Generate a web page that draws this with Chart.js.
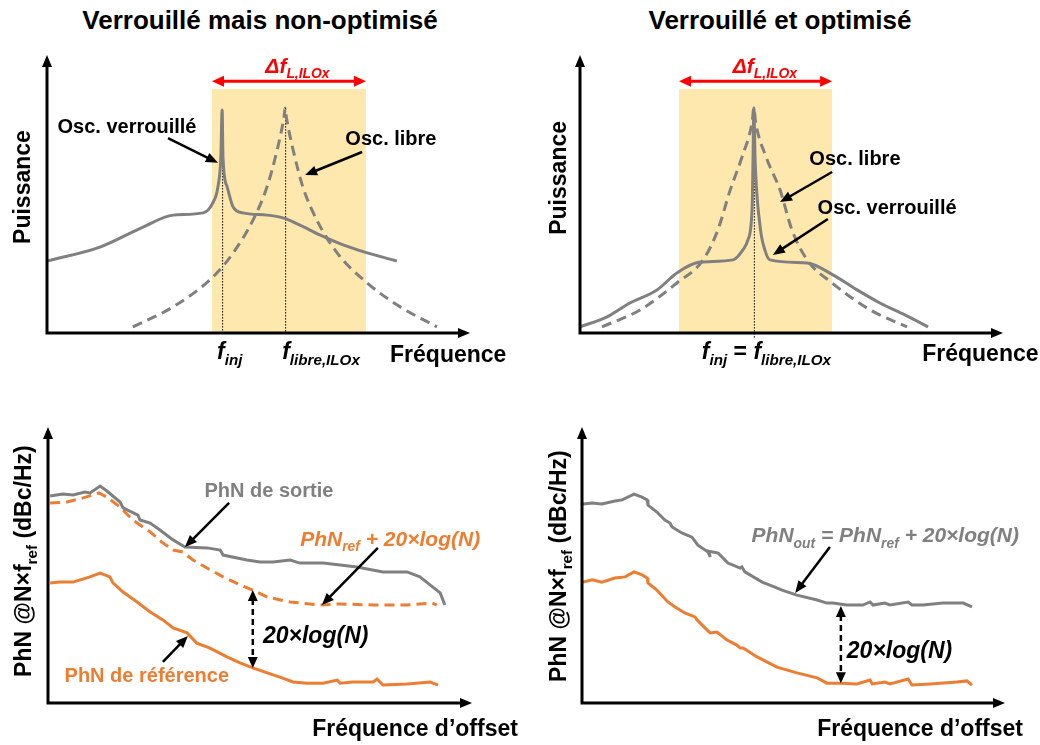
<!DOCTYPE html>
<html>
<head>
<meta charset="utf-8">
<script src="https://cdn.jsdelivr.net/npm/chart.js@4/dist/chart.umd.min.js"></script>
<style>
  body { margin: 0; background: #fff; width: 1040px; height: 745px; position: relative; overflow: hidden;
         font-family: "Liberation Sans", Arial, sans-serif; }
  .title { position: absolute; top: 6px; width: 520px; text-align: center; font-weight: bold; font-size: 26px; line-height: 28px; color: #000; }
  canvas { position: absolute; }
</style>
</head>
<body>
<div class="title" style="left:0">Verrouillé mais non-optimisé</div>
<div class="title" style="left:520px">Verrouillé et optimisé</div>
<canvas id="tl" width="520" height="380" style="left:0;top:0"></canvas>
<canvas id="tr" width="520" height="380" style="left:520px;top:0"></canvas>
<canvas id="bl" width="520" height="365" style="left:0;top:380px"></canvas>
<canvas id="br" width="520" height="365" style="left:520px;top:380px"></canvas>
<script>
// all values in arbitrary units, 0..100 along each axis

// top left : locked but not optimised
const tlLocked = [[0,25.9],[12.5,30.9],[22.7,38.1],[29.8,42.4],[36.9,43.2],[39.2,46.8],[40.4,52.5],[41.1,63.3],
  [41.4,80.2],[41.6,63.3],[42.6,52.5],[44.0,45.3],[46.3,43.2],[52.0,42.4],[55.8,41.4],[59.8,38.8],[64.5,35.3],
  [70.0,31.7],[75.7,28.8],[82.7,25.9]];
const tlFree = [[20.3,2.2],[29.8,9.4],[39.2,20.1],[44.0,28.8],[48.7,40.6],[52.0,52.5],[54.4,65.8],[56.0,77.5],
  [56.3,80.9],[56.6,77.5],[58.2,65.8],[60.5,52.5],[63.8,40.6],[68.6,28.8],[75.7,18.0],[83.5,9.4],[92.2,2.2]];
const tlRange = [39.0, 75.4];
const tlInj = 41.4, tlFreeRun = 56.3;

// top right : locked and optimised
const trLocked = [[0,2.2],[6.4,5.8],[11.8,10.8],[18.2,15.5],[22.9,21.6],[28.4,25.5],[36.2,26.3],[38.5,29.9],
  [39.7,33.5],[40.7,45.3],[40.9,62.2],[41.1,80.9],[41.4,62.2],[42.6,38.1],[43.7,29.9],[44.9,26.3],[53.7,25.2],
  [59.8,20.9],[65.5,15.5],[70.9,10.8],[76.8,6.5],[82.3,2.2]];
const trFree = [[5.2,2.2],[14.2,8.3],[22.9,18.0],[29.1,26.3],[32.6,37.1],[35.5,51.4],[38.3,63.3],[40.7,76.0],
  [41.1,80.9],[41.5,76.0],[44.0,63.3],[47.3,51.4],[50.1,37.1],[53.7,26.3],[59.6,18.0],[68.6,8.3],[77.3,2.2]];
const trRange = [23.4, 59.6];
const trInj = 41.1;

// bottom left : phase noise, not optimised
const blOut = [[0.5,75.0],[3.5,75.7],[5.9,75.4],[8.7,76.4],[9.9,76.1],[12.3,78.6],[13.9,76.8],[17.0,72.8],
  [17.7,70.7],[21.2,68.1],[21.7,66.3],[24.1,65.2],[26.4,62.7],[29.5,59.1],[32.3,56.5],[37.5,56.2],[40.6,55.4],
  [41.3,53.6],[46.9,51.8],[50.0,51.1],[53.1,51.1],[57.1,51.8],[59.4,50.7],[64.9,50.7],[72.9,49.3],[79.0,47.5],
  [84.7,47.5],[87.7,45.7],[90.1,42.8],[92.5,39.9],[93.6,35.5]];
const blRefPlus = [[0.5,72.5],[4.5,72.8],[8.3,74.3],[12.0,76.1],[13.9,74.6],[17.0,71.0],[20.0,66.3],[21.7,64.5],
  [24.1,62.0],[27.1,58.0],[29.5,55.4],[31.8,54.7],[34.2,51.8],[37.5,48.9],[41.3,45.7],[45.3,42.8],[48.3,40.9],
  [51.7,38.4],[57.1,36.6],[64.2,35.5],[68.9,35.9],[76.7,35.5],[84.7,35.5],[90.6,36.2],[91.7,35.5]];
const blRef = [[0.5,43.5],[2.8,43.8],[5.9,43.8],[9.9,45.7],[12.3,47.1],[14.6,45.7],[15.3,43.5],[17.7,40.2],
  [21.0,36.6],[24.1,33.0],[27.1,30.1],[29.5,27.2],[32.8,25.4],[35.1,21.7],[38.2,19.9],[42.2,16.7],[45.3,14.5],
  [48.3,12.7],[51.7,10.9],[54.7,9.4],[57.8,7.6],[61.1,7.2],[64.9,7.2],[68.2,8.3],[68.9,7.2],[71.9,7.6],
  [76.7,7.6],[77.6,8.7],[79.0,6.5],[84.7,6.9],[90.1,7.6],[92.0,6.5]];
const blGap = [48.3, 40.9, 12.7];

// bottom right : phase noise, optimised
const brOut = [[0.2,72.1],[2.4,72.5],[4.7,72.1],[7.8,73.2],[9.5,73.6],[12.3,75.7],[14.2,74.6],[15.4,73.6],
  [15.6,71.7],[17.7,69.2],[19.6,66.3],[20.8,65.2],[21.3,63.8],[23.6,61.6],[26.0,60.1],[27.4,57.2],[29.8,54.7],
  [30.3,52.9],[30.0,55.0],[32.2,54.3],[34.5,50.7],[37.4,48.9],[37.8,49.3],[38.5,47.5],[42.6,43.8],[45.6,42.0],
  [47.3,40.9],[50.8,39.1],[55.6,37.3],[57.9,36.2],[59.3,36.2],[62.6,35.5],[66.4,35.5],[68.1,36.6],[68.8,35.5],
  [71.6,36.2],[72.8,35.5],[77.1,36.6],[78.0,35.5],[80.6,35.5],[85.3,36.2],[90.1,36.2],[92.2,34.8]];
const brRef = [[0.2,43.8],[2.4,44.6],[4.7,43.8],[7.8,45.3],[10.2,45.7],[12.3,47.5],[14.2,46.4],[15.4,45.3],
  [15.6,43.5],[17.7,40.9],[20.3,36.6],[22.0,34.8],[24.3,32.6],[26.7,31.2],[27.2,30.1],[29.6,26.4],[30.3,25.4],
  [31.9,25.7],[34.3,22.8],[36.6,21.0],[37.4,19.9],[38.1,19.9],[41.4,16.7],[46.1,13.0],[50.8,10.9],[55.6,9.1],
  [57.9,7.2],[61.0,7.2],[65.0,6.9],[68.1,8.3],[68.6,6.9],[71.6,7.6],[72.8,6.9],[77.1,8.7],[78.0,6.5],
  [82.3,6.9],[88.7,7.6],[91.0,8.0],[92.2,6.5]];
const brGap = [61.2, 35.1, 7.2];

const GREY = '#808080', ORANGE = '#ED7D31', RED = '#FF0000', BAND = '#FFE8AD';
const FONT = '"Liberation Sans", Arial, sans-serif';

function line(pts, color, extra) {
  return Object.assign({
    data: pts.map(p => ({ x: p[0], y: p[1] })),
    borderColor: color, borderWidth: 3, pointRadius: 0, fill: false, tension: 0, clip: false
  }, extra);
}

function drawArrow(ctx, x1, y1, x2, y2, o) {
  const len = o.head || 11, half = (o.hw || 10) / 2;
  const ang = Math.atan2(y2 - y1, x2 - x1);
  const ux = Math.cos(ang), uy = Math.sin(ang);
  let sx = x1, sy = y1;
  if (o.both) { sx = x1 + ux * len * 0.8; sy = y1 + uy * len * 0.8; }
  ctx.save();
  ctx.strokeStyle = o.color; ctx.fillStyle = o.color; ctx.lineWidth = o.width || 2.5;
  ctx.setLineDash(o.dash || []);
  ctx.beginPath(); ctx.moveTo(sx, sy); ctx.lineTo(x2 - ux * len * 0.8, y2 - uy * len * 0.8); ctx.stroke();
  ctx.setLineDash([]);
  const head = (tx, ty, dx, dy) => {
    ctx.beginPath();
    ctx.moveTo(tx, ty);
    ctx.lineTo(tx - dx * len - dy * half, ty - dy * len + dx * half);
    ctx.lineTo(tx - dx * len + dy * half, ty - dy * len - dx * half);
    ctx.closePath(); ctx.fill();
  };
  head(x2, y2, ux, uy);
  if (o.both) head(x1, y1, -ux, -uy);
  ctx.restore();
}

function drawRich(ctx, px, py, t) {
  const size = t.size, sub = size * 0.66;
  const font = f => (f.includes('i') ? 'italic ' : '') + 'bold ' + (f.includes('s') ? sub : size) + 'px ' + FONT;
  let w = 0;
  t.parts.forEach(p => { ctx.font = font(p[1]); w += ctx.measureText(p[0]).width; });
  ctx.save();
  ctx.translate(px, py);
  if (t.rot) ctx.rotate(-Math.PI / 2);
  let x = t.align === 'left' ? 0 : -w / 2;
  const base = size * 0.36;
  ctx.fillStyle = t.color || '#000';
  ctx.textAlign = 'left'; ctx.textBaseline = 'alphabetic';
  t.parts.forEach(p => {
    ctx.font = font(p[1]);
    ctx.fillText(p[0], x, base + (p[1].includes('s') ? size * 0.24 : 0));
    x += ctx.measureText(p[0]).width;
  });
  ctx.restore();
}

const sketch = {
  id: 'sketch',
  beforeDatasetsDraw(chart, args, o) {
    const { ctx, scales: { x, y } } = chart;
    ctx.save();
    if (o.band) {
      const l = x.getPixelForValue(o.band[0]), r = x.getPixelForValue(o.band[1]);
      const t = y.getPixelForValue(o.bandTop), b = y.getPixelForValue(0);
      ctx.fillStyle = BAND; ctx.fillRect(l, t, r - l, b - t);
    }
    (o.vlines || []).forEach(v => {
      ctx.strokeStyle = '#000'; ctx.lineWidth = 1; ctx.setLineDash([1.5, 1.5]);
      ctx.beginPath();
      ctx.moveTo(x.getPixelForValue(v[0]) + 0.5, y.getPixelForValue(v[1]));
      ctx.lineTo(x.getPixelForValue(v[0]) + 0.5, y.getPixelForValue(v[2]));
      ctx.stroke();
    });
    ctx.restore();
  },
  afterDatasetsDraw(chart, args, o) {
    const { ctx, chartArea: a, scales: { x, y } } = chart;
    // axes with arrow heads
    ctx.save();
    ctx.strokeStyle = '#000'; ctx.lineWidth = 3; ctx.lineCap = 'square';
    ctx.beginPath();
    ctx.moveTo(a.left, a.top + 8); ctx.lineTo(a.left, a.bottom); ctx.lineTo(a.right - 8, a.bottom);
    ctx.stroke();
    ctx.restore();
    drawArrow(ctx, a.left, a.bottom, a.left, a.top, { color: '#000', width: 0.1, head: 12, hw: 10 });
    drawArrow(ctx, a.left, a.bottom, a.right, a.bottom, { color: '#000', width: 0.1, head: 12, hw: 10 });
    (o.arrows || []).forEach(r => drawArrow(ctx, x.getPixelForValue(r.from[0]), y.getPixelForValue(r.from[1]),
      x.getPixelForValue(r.to[0]), y.getPixelForValue(r.to[1]), r));
    (o.texts || []).forEach(t => drawRich(ctx, x.getPixelForValue(t.at[0]), y.getPixelForValue(t.at[1]), t));
  }
};

function panel(id, datasets, padding, sk) {
  return new Chart(document.getElementById(id), {
    type: 'line',
    data: { datasets },
    options: {
      responsive: false, animation: false, devicePixelRatio: 1,
      layout: { padding },
      scales: {
        x: { type: 'linear', min: 0, max: 100, display: false },
        y: { type: 'linear', min: 0, max: 100, display: false }
      },
      plugins: { legend: { display: false }, tooltip: { enabled: false }, sketch: sk }
    },
    plugins: [sketch]
  });
}

const black = { color: '#000', width: 2.5, head: 12, hw: 10 };
const redBoth = { color: RED, width: 3, head: 12, hw: 11, both: true };
const gapArrow = { color: '#000', width: 2.5, head: 11, hw: 10, both: true, dash: [6, 4] };
const deltaF = [['Δf', 'i'], ['L,ILOx', 'is']];
const dphn = [['PhN @N×f', ''], ['ref', 's'], [' (dBc/Hz)', '']];

panel('tl', [
  line(tlLocked, GREY, { cubicInterpolationMode: 'monotone' }),
  line(tlFree, GREY, { cubicInterpolationMode: 'monotone', borderDash: [10, 6] })
], { left: 47, top: 55, right: 50, bottom: 47 }, {
  band: tlRange, bandTop: 87.8,
  vlines: [[tlInj, 80.2, 0], [tlFreeRun, 80.9, 0]],
  arrows: [
    Object.assign({ from: [tlRange[0], 90.6], to: [tlRange[1], 90.6] }, redBoth),
    Object.assign({ from: [28.6, 70.1], to: [40.4, 61.2] }, black),
    Object.assign({ from: [74.5, 65.1], to: [61.0, 56.8] }, black)
  ],
  texts: [
    { at: [59.2, 96.4], parts: deltaF, size: 21, color: RED },
    { at: [18.9, 74.5], parts: [['Osc. verrouillé', '']], size: 20 },
    { at: [81.3, 70.1], parts: [['Osc. libre', '']], size: 20 },
    { at: [40.2, -6.5], parts: [['f', 'i'], ['inj', 'is']], size: 23, align: 'left' },
    { at: [55.6, -6.5], parts: [['f', 'i'], ['libre,ILOx', 'is']], size: 23, align: 'left' },
    { at: [81.1, -7.3], parts: [['Fréquence', '']], size: 23, align: 'left' },
    { at: [-5.9, 52.5], parts: [['Puissance', '']], size: 23, rot: true }
  ]
});

panel('tr', [
  line(trLocked, GREY, { cubicInterpolationMode: 'monotone' }),
  line(trFree, GREY, { cubicInterpolationMode: 'monotone', borderDash: [10, 6] })
], { left: 60, top: 55, right: 37, bottom: 47 }, {
  band: trRange, bandTop: 87.8,
  vlines: [[trInj, 80.9, -2]],
  arrows: [
    Object.assign({ from: [trRange[0], 90.6], to: [trRange[1], 90.6] }, redBoth),
    Object.assign({ from: [59.6, 57.9], to: [47.3, 47.1] }, black),
    Object.assign({ from: [58.6, 41.0], to: [45.6, 28.1] }, black)
  ],
  texts: [
    { at: [43.7, 96.4], parts: deltaF, size: 21, color: RED },
    { at: [65.0, 62.9], parts: [['Osc. libre', '']], size: 20 },
    { at: [72.6, 45.3], parts: [['Osc. verrouillé', '']], size: 20 },
    { at: [28.8, -6.5], parts: [['f', 'i'], ['inj', 'is'], [' = ', ''], ['f', 'i'], ['libre,ILOx', 'is']], size: 23, align: 'left' },
    { at: [80.9, -7.0], parts: [['Fréquence', '']], size: 23, align: 'left' },
    { at: [-5.2, 55.8], parts: [['Puissance', '']], size: 23, rot: true }
  ]
});

panel('bl', [
  line(blOut, GREY),
  line(blRefPlus, ORANGE, { borderDash: [10, 6] }),
  line(blRef, ORANGE)
], { left: 48, top: 47, right: 48, bottom: 42 }, {
  arrows: [
    Object.assign({ from: [blGap[0], blGap[1]], to: [blGap[0], blGap[2]] }, gapArrow),
    Object.assign({ from: [42.7, 72.5], to: [32.3, 56.5] }, black),
    Object.assign({ from: [77.8, 56.2], to: [64.6, 35.5] }, black),
    Object.assign({ from: [27.1, 14.9], to: [33.0, 24.3] }, black)
  ],
  texts: [
    { at: [52.1, 77.2], parts: [['PhN de sortie', '']], size: 20, color: GREY },
    { at: [80.7, 59.8], parts: [['PhN', 'i'], ['ref', 'is'], [' + 20×log(N)', 'i']], size: 21, color: ORANGE },
    { at: [23.3, 10.1], parts: [['PhN de référence', '']], size: 20, color: ORANGE },
    { at: [50.7, 24.6], parts: [['20×log(N)', 'i']], size: 23, align: 'left' },
    { at: [62.3, -9.1], parts: [['Fréquence d’offset', '']], size: 23, align: 'left' },
    { at: [-5.9, 51.4], parts: dphn, size: 23, rot: true }
  ]
});

panel('br', [
  line(brOut, GREY),
  line(brRef, ORANGE)
], { left: 62, top: 47, right: 35, bottom: 42 }, {
  arrows: [
    Object.assign({ from: [brGap[0], brGap[1]], to: [brGap[0], brGap[2]] }, gapArrow),
    Object.assign({ from: [58.6, 56.5], to: [50.4, 39.9] }, black)
  ],
  texts: [
    { at: [71.7, 60.9], parts: [['PhN', 'i'], ['out', 'is'], [' = PhN', 'i'], ['ref', 'is'], [' + 20×log(N)', 'i']], size: 21, color: GREY },
    { at: [62.6, 19.2], parts: [['20×log(N)', 'i']], size: 23, align: 'left' },
    { at: [55.6, -9.1], parts: [['Fréquence d’offset', '']], size: 23, align: 'left' },
    { at: [-5.7, 49.6], parts: dphn, size: 23, rot: true }
  ]
});
</script>
</body>
</html>
